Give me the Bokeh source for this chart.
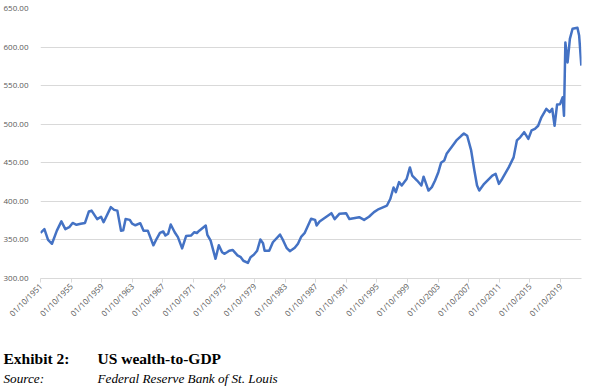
from bokeh.plotting import figure
from bokeh.models import Range1d, FixedTicker, ColumnDataSource
from bokeh.layouts import column
from bokeh.core.properties import value
from bokeh.embed import file_html
from bokeh.resources import INLINE

# decimal year of each reading and the wealth-to-GDP value (%)
years = [1951.75, 1952.26, 1952.74, 1953.25, 1953.89, 1954.48, 1955.00, 1955.51, 1955.95, 1956.46,
         1957.01, 1957.57, 1958.08, 1958.43, 1959.16, 1959.67, 1960.00, 1960.95, 1961.38, 1961.80,
         1962.28, 1962.57, 1962.88, 1963.43, 1963.73, 1964.16, 1964.80, 1965.23, 1965.78, 1966.51,
         1966.94, 1967.37, 1967.80, 1968.09, 1968.44, 1968.78, 1969.30, 1969.72, 1970.27, 1970.79,
         1971.43, 1971.87, 1972.20, 1972.51, 1973.36, 1973.57, 1974.00, 1974.64, 1975.07, 1975.50,
         1975.79, 1976.14, 1976.43, 1976.87, 1977.51, 1977.94, 1978.28, 1978.87, 1979.22, 1979.64,
         1980.08, 1980.50, 1980.85, 1981.06, 1981.66, 1982.14, 1983.07, 1983.50, 1983.93, 1984.36,
         1985.00, 1985.42, 1985.86, 1986.28, 1987.14, 1987.66, 1987.86, 1988.25, 1989.79, 1990.22,
         1990.86, 1991.71, 1992.15, 1993.43, 1994.07, 1994.71, 1995.36, 1995.99, 1997.06, 1997.49,
         1997.92, 1998.22, 1998.64, 1998.99, 1999.63, 2000.06, 2000.36, 2001.00, 2001.56, 2001.85,
         2002.49, 2002.93, 2003.35, 2003.78, 2004.13, 2004.55, 2004.86, 2005.71, 2006.14, 2006.78,
         2007.12, 2007.55, 2008.07, 2008.49, 2008.84, 2009.13, 2009.77, 2010.84, 2011.27, 2011.70,
         2012.12, 2012.98, 2013.62, 2014.05, 2014.48, 2015.00, 2015.55, 2015.97, 2016.41, 2016.83,
         2017.26, 2017.90, 2018.34, 2018.67, 2018.98, 2019.31, 2019.70, 2020.04, 2020.21, 2020.39,
         2020.68, 2020.98, 2021.33, 2021.97, 2022.19, 2022.48]
wealth_to_gdp = [359, 364, 350, 345, 362, 374, 364, 366.5, 372, 369.6,
                 371, 372, 387, 388, 377, 380, 373, 392.5, 389, 388,
                 362, 362.5, 377, 376, 371, 369, 371.7, 362, 362, 343,
                 351.5, 359, 361, 355.7, 358, 370, 360, 353.6, 339, 355,
                 355.7, 360, 359, 362, 368.7, 356.6, 349, 325.5, 343, 334,
                 332, 334, 336, 337, 330, 327.6, 323, 320.3, 327.6, 330.7,
                 336, 350.5, 345.8, 336, 336, 347, 357, 349, 339.8, 335.4,
                 339.8, 345, 354.4, 358.7, 377.4, 376, 368.7, 374, 384.7, 377,
                 384, 384.7, 377, 379.5, 376, 380, 386, 390, 394.6, 403,
                 418, 412, 425, 420.5, 429, 444, 433.5, 427, 420.6, 432,
                 414, 418.4, 427, 437.8, 450, 453, 461.6, 473, 479, 485,
                 488, 485, 466, 440, 420.6, 414, 422.7, 433.5, 435.7, 422.7,
                 429, 444, 457, 479, 483, 489.7, 481, 492, 494, 498,
                 509, 520, 515.6, 520, 498, 525.6, 526, 535, 511, 606,
                 580, 610.7, 623.7, 625, 615, 576]

tick_years = [1951, 1955, 1959, 1963, 1967, 1971, 1975, 1979, 1983, 1987,
              1991, 1995, 1999, 2003, 2007, 2011, 2015, 2019]
tick_labels = ["01/10/%d" % y for y in tick_years]
y_ticks = [300, 350, 400, 450, 500, 550, 600, 650]

caption_heads = ["Exhibit 2:", "Source:"]
caption_texts = ["US wealth-to-GDP", "Federal Reserve Bank of St. Louis"]

src = ColumnDataSource(dict(x=years, y=wealth_to_gdp))

p = figure(width=594, height=332, output_backend="svg", toolbar_location=None,
           x_range=Range1d(1951.75, 2022.5), y_range=Range1d(300, 650),
           min_border_left=30, min_border_right=13, min_border_top=8, min_border_bottom=54)
p.outline_line_color = None
p.frame_align = False

p.line("x", "y", source=src, line_color="#4472C4", line_width=2.5, line_join="round")

tick_pos = [y + 0.75 for y in tick_years]
p.xaxis.ticker = FixedTicker(ticks=tick_pos)
p.xaxis.major_label_overrides = {t: l for t, l in zip(tick_pos, tick_labels)}
p.xaxis.major_label_orientation = 0.785398
p.xaxis.minor_tick_line_color = None
p.xaxis.axis_line_color = "#D9D9D9"
p.xaxis.major_tick_line_color = "#D9D9D9"
p.xaxis.major_tick_in = 0
p.xaxis.major_tick_out = 4
p.xaxis.major_label_standoff = 2
p.xaxis.major_label_text_font = "Open Sans"
p.xaxis.major_label_text_font_size = "8px"
p.xaxis.major_label_text_color = "#595959"

p.yaxis.ticker = FixedTicker(ticks=y_ticks)
p.yaxis.major_label_overrides = {v: "%.2f" % v for v in y_ticks}
p.yaxis.axis_line_color = None
p.yaxis.major_tick_line_color = None
p.yaxis.minor_tick_line_color = None
p.yaxis.major_label_standoff = 6
p.yaxis.major_label_text_font = "Open Sans"
p.yaxis.major_label_text_font_size = "8px"
p.yaxis.major_label_text_color = "#595959"

p.xgrid.grid_line_color = None
p.ygrid.ticker = FixedTicker(ticks=y_ticks)
p.ygrid.grid_line_color = "#D9D9D9"
p.ygrid.grid_line_width = 1

# caption strip, drawn in pixel-like units
cap = figure(width=594, height=56, output_backend="svg", toolbar_location=None,
             x_axis_type=None, y_axis_type=None,
             x_range=Range1d(0, 594), y_range=Range1d(0, 56),
             min_border=0, min_border_left=0, min_border_right=0,
             min_border_top=0, min_border_bottom=0)
cap.outline_line_color = None
cap.frame_align = False
cap.grid.visible = False
cap_src = ColumnDataSource(dict(hx=[3, 3], tx=[97, 97], y=[30, 10],
                                head=caption_heads, text=caption_texts,
                                size=["15.5px", "13.2px"],
                                style=["bold", "italic"]))
cap.text(x="hx", y="y", text="head", source=cap_src, text_font=value("Liberation Serif"),
         text_font_size="size", text_font_style="style", text_color="black",
         text_baseline="alphabetic")
cap.text(x="tx", y="y", text="text", source=cap_src, text_font=value("Liberation Serif"),
         text_font_size="size", text_font_style="style", text_color="black",
         text_baseline="alphabetic")

layout = column(p, cap, spacing=0)
open("out.html", "w").write(file_html(layout, INLINE))
